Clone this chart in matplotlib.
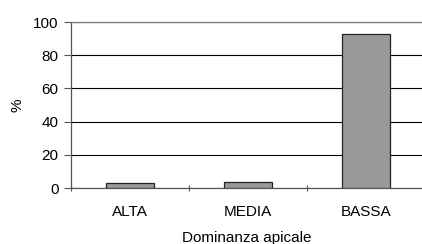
import matplotlib
matplotlib.use("Agg")
import matplotlib.pyplot as plt
import numpy as np

categories = ["ALTA", "MEDIA", "BASSA"]
values = [3.3, 3.9, 92.8]
yticks = [0, 20, 40, 60, 80, 100]

plt.rcParams['font.family'] = ['Liberation Sans', 'DejaVu Sans']

fig = plt.figure(figsize=(4.22, 2.44), dpi=100)
# axes in pixel coordinates: left spine x=71, y range 22..188, runs to right image edge
ax = fig.add_axes([71/422, (244-188)/244, (422-71)/422, (188-22)/244])

x = np.arange(len(categories))
ax.bar(x, values, width=0.4, color="#999999", edgecolor="#222222", linewidth=0.9, zorder=3)

# one category is ~118 px wide; axes end slightly before the last boundary
ax.set_xlim(-0.5, -0.5 + (422 - 71) / 118)
ax.set_ylim(0, 100)
ax.set_yticks(yticks)
ax.set_yticklabels([str(v) for v in yticks], fontsize=11)

ax.set_xticks(x)
ax.set_xticklabels(categories, fontsize=11)
ax.tick_params(axis="x", which="major", length=0, pad=12)
ax.set_xticks(np.arange(len(categories)) - 0.5, minor=True)
ax.tick_params(axis="x", which="minor", length=5, width=0.8, color="#555555", direction="inout")
ax.tick_params(axis="y", length=5, width=0.8, color="#555555", pad=4)

ax.set_axisbelow(True)
ax.yaxis.grid(True, color="black", linewidth=0.8)

ax.spines["right"].set_visible(False)
ax.spines["top"].set_color("#777777")
ax.spines["left"].set_color("#555555")
ax.spines["bottom"].set_color("#555555")
for s in ax.spines.values():
    s.set_linewidth(0.9)
    s.set_zorder(2.5)

ax.set_xlabel("Dominanza apicale", fontsize=11, labelpad=9)
ax.set_ylabel("%", fontsize=11, labelpad=6)

fig.savefig("out.png", dpi=100)
